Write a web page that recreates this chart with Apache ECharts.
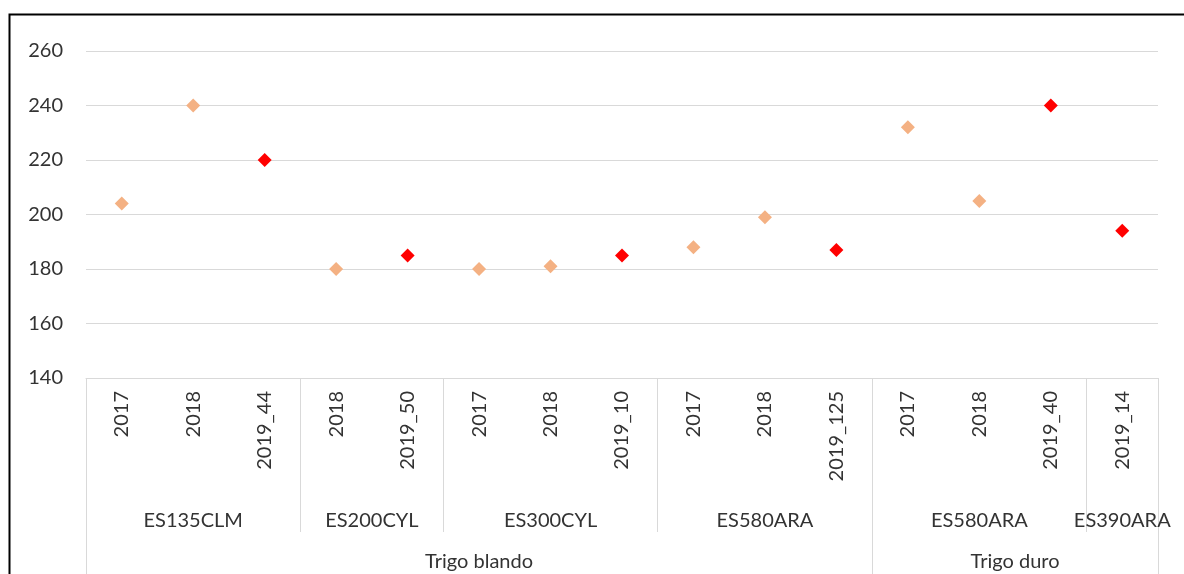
<!DOCTYPE html>
<html>
<head>
<meta charset="utf-8">
<script src="https://cdn.jsdelivr.net/npm/echarts@6/dist/echarts.min.js"></script>
<style>
html,body{margin:0;padding:0;background:#fff;}
#chart{width:1184px;height:574px;}
</style>
</head>
<body>
<div id="chart"></div>
<script>
// ---- data ----
const years = ['2017','2018','2019_44','2018','2019_50','2017','2018','2019_10','2017','2018','2019_125','2017','2018','2019_40','2019_14'];
const varieties = ['ES135CLM','ES200CYL','ES300CYL','ES580ARA','ES580ARA','ES390ARA'];
const varietySpans = [3,2,3,3,3,1];
const wheatTypes = ['Trigo blando','Trigo duro'];
const wheatSpans = [11,4];
const earlierYears = [204,240,null,180,null,180,181,null,188,199,null,232,205,null,null];
const year2019 = [null,null,220,null,185,null,null,185,null,null,187,null,null,240,194];
const yTicks = [140,160,180,200,220,240,260];

// ---- build half-slot group axes (2N+1 slots, boundaryGap false) ----
function buildGroupAxis(names, spans){
  const n = years.length;
  const slots = [];
  for (let i = 0; i <= 2*n; i++) slots.push('s' + i);
  const labelAt = {};
  const boundary = {0:true};
  let start = 0;
  names.forEach((nm, k) => {
    const end = start + spans[k];
    labelAt[start + end] = nm;   // center in half-slot units
    boundary[2*end] = true;
    start = end;
  });
  return {slots, labelAt, boundary};
}
const lvl1 = buildGroupAxis(varieties, varietySpans);
const lvl2 = buildGroupAxis(wheatTypes, wheatSpans);

const font = 'Lato, "Open Sans", sans-serif';
const txt = '#333333';
const gridCol = '#d9d9d9';

const chart = echarts.init(document.getElementById('chart'), null, {renderer:'canvas'});
const option = {
  animation:false,
  backgroundColor:'#fff',
  textStyle:{fontFamily:font},
  grid:{left:86,right:26,top:51,bottom:196},
  graphic:[{
    type:'rect', left:7, top:12,
    shape:{width:1300,height:700},
    style:{fill:'none',stroke:'#000',lineWidth:2},
    silent:true
  }],
  xAxis:[
    {
      type:'category',
      data:years.map((y,i)=>i),
      position:'bottom',
      boundaryGap:true,
      axisLine:{show:true,lineStyle:{color:gridCol,width:1}},
      axisTick:{show:false},
      axisLabel:{
        interval:0, rotate:90, margin:13,
        fontSize:20, color:txt, fontFamily:font,
        formatter:(v)=>years[+v]
      },
      splitLine:{show:false}
    },
    {
      type:'category',
      data:lvl1.slots,
      position:'bottom',
      boundaryGap:false,
      axisLine:{show:false},
      axisTick:{
        show:true, length:154, inside:false,
        interval:(i)=>!!lvl1.boundary[i],
        lineStyle:{color:gridCol,width:1}
      },
      axisLabel:{
        show:true, margin:133, fontSize:20, color:txt, fontFamily:font,
        interval:(i)=>lvl1.labelAt[i]!==undefined,
        formatter:(v,i)=>lvl1.labelAt[i]||''
      },
      splitLine:{show:false}
    },
    {
      type:'category',
      data:lvl2.slots,
      position:'bottom',
      boundaryGap:false,
      axisLine:{show:false},
      axisTick:{
        show:true, length:220, inside:false,
        interval:(i)=>!!lvl2.boundary[i],
        lineStyle:{color:gridCol,width:1}
      },
      axisLabel:{
        show:true, margin:174, fontSize:20, color:txt, fontFamily:font,
        interval:(i)=>lvl2.labelAt[i]!==undefined,
        formatter:(v,i)=>lvl2.labelAt[i]||''
      },
      splitLine:{show:false}
    }
  ],
  yAxis:{
    type:'value',
    min:yTicks[0], max:yTicks[yTicks.length-1], interval:yTicks[1]-yTicks[0],
    axisLine:{show:false},
    axisTick:{show:false},
    axisLabel:{fontSize:20,color:txt,margin:23,fontFamily:font},
    splitLine:{show:true,lineStyle:{color:gridCol,width:1}}
  },
  series:[
    {
      name:'Años anteriores',
      type:'scatter',
      xAxisIndex:0,
      symbol:'diamond',
      symbolSize:14,
      itemStyle:{color:'#F4B183',opacity:1},
      data:earlierYears
    },
    {
      name:'2019',
      type:'scatter',
      xAxisIndex:0,
      symbol:'diamond',
      symbolSize:14,
      itemStyle:{color:'#FF0000',opacity:1},
      data:year2019
    }
  ]
};
chart.setOption(option);
</script>
</body>
</html>
